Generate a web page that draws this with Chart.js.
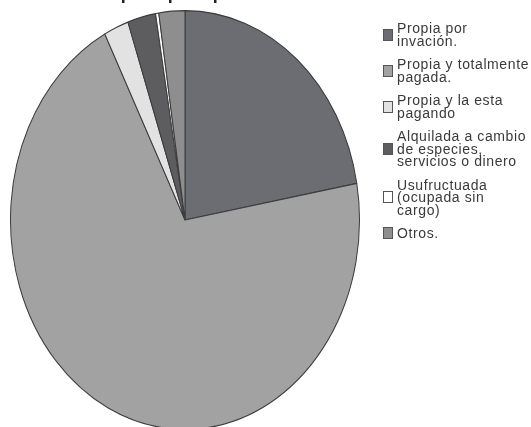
<!DOCTYPE html>
<html>
<head>
<meta charset="utf-8">
<script src="https://cdn.jsdelivr.net/npm/chart.js@4.4.1/dist/chart.umd.min.js"></script>
<style>
  body { margin: 0; background: #fff; overflow: hidden; }
  #marco { position: relative; width: 531px; height: 427px; overflow: hidden; }
  #grafico { position: absolute; left: 0; top: -17px; }
  #leyenda { position: absolute; left: 383px; top: 22px; font-family: "Liberation Sans", Arial, sans-serif; font-size: 14px; letter-spacing: 0.6px; line-height: 12.5px; color: #3a3a3a; }
  .item { display: flex; align-items: center; margin-bottom: 11px; }
  .caja { width: 10px; height: 12px; border: 1px solid #555; margin-right: 4px; flex: none; box-sizing: border-box; }
</style>
</head>
<body>
<div id="marco">
  <canvas id="grafico" width="531" height="444"></canvas>
  <div id="leyenda"></div>
</div>
<script>
// categorias (cada una partida en lineas como en la leyenda)
const categorias = [
    ['Propia por', 'invación.'],
    ['Propia y totalmente', 'pagada.'],
    ['Propia y la esta', 'pagando'],
    ['Alquilada a cambio', 'de especies,', 'servicios o dinero'],
    ['Usufructuada', '(ocupada sin', 'cargo)'],
    ['Otros.']
];
// porcentajes
const porcentajes = [22.2, 70.2, 2.3, 2.6, 0.3, 2.4];
const titulo = 'Vivienda ocupada por tipo de tenencia';

const colores = ['#6b6d72', '#a2a2a2', '#e2e2e2', '#5d5d60', '#ffffff', '#8e8e8e'];

// el pastel original es una elipse: se estira en vertical al dibujar los sectores
const estirarPastel = {
    id: 'estirarPastel',
    beforeDatasetsDraw(chart) {
        const arco = chart.getDatasetMeta(0).data[0];
        const ctx = chart.ctx;
        ctx.save();
        ctx.translate(arco.x, arco.y);
        ctx.scale(1, 1.2);
        ctx.translate(-arco.x, -arco.y);
    },
    afterDatasetsDraw(chart) {
        chart.ctx.restore();
    }
};

const dados = {
    labels: categorias.map(c => c.join(' ')),
    datasets: [{
        data: porcentajes,
        backgroundColor: colores,
        borderColor: '#3c3c3c',
        borderWidth: 1
    }]
};

const config = {
    type: 'pie',
    data: dados,
    options: {
        responsive: false,
        animation: false,
        layout: {
            padding: { left: 10, right: 171, top: 0, bottom: 32 }
        },
        plugins: {
            legend: { display: false },
            tooltip: { enabled: false },
            title: {
                display: true,
                text: titulo,
                align: 'start',
                color: '#222',
                padding: { top: 0, bottom: 40.4 },
                font: { family: 'Liberation Sans', size: 18, weight: 'bold', lineHeight: 1.2 }
            }
        }
    },
    plugins: [estirarPastel]
};

const ctx = document.getElementById('grafico').getContext('2d');
const grafico = new Chart(ctx, config);

// leyenda a la derecha, con las mismas categorias y colores
const leyenda = document.getElementById('leyenda');
categorias.forEach((lineas, i) => {
    const item = document.createElement('div');
    item.className = 'item';
    const caja = document.createElement('div');
    caja.className = 'caja';
    caja.style.background = colores[i];
    const texto = document.createElement('div');
    texto.innerHTML = lineas.join('<br>');
    item.appendChild(caja);
    item.appendChild(texto);
    leyenda.appendChild(item);
});
</script>
</body>
</html>
